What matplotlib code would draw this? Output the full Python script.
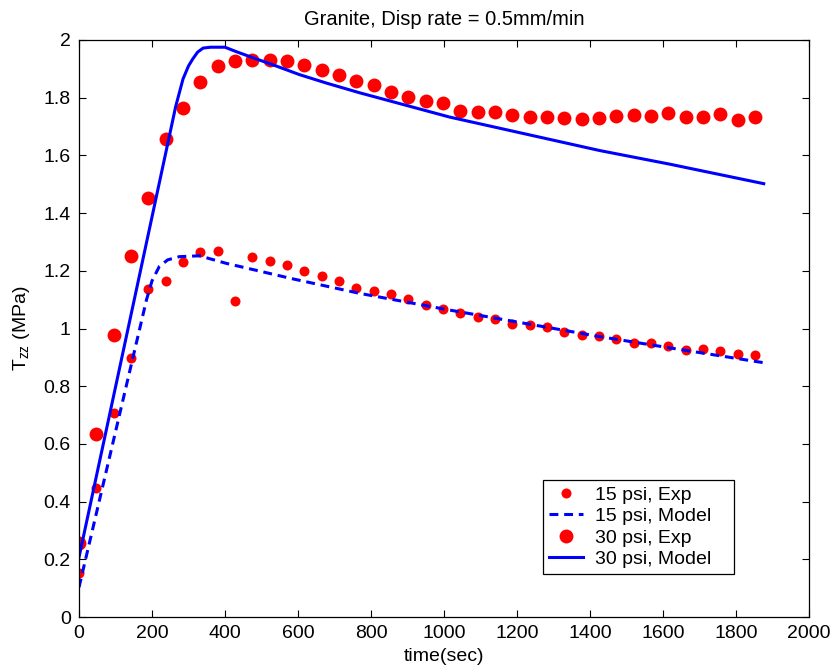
import matplotlib
matplotlib.use("Agg")
import matplotlib.pyplot as plt

plt.rcParams["font.family"] = ["Liberation Sans", "DejaVu Sans"]
plt.rcParams["mathtext.fontset"] = "custom"
plt.rcParams["mathtext.rm"] = "Liberation Sans"
plt.rcParams["mathtext.it"] = "Liberation Sans:italic"

# Sampling times of the experimental records (sec)
time_exp = [0, 47.5, 95, 142.5, 190, 237.5, 285, 332.5, 380, 427.5,
            475, 522.5, 570, 617.5, 665, 712.5, 760, 807.5, 855, 902.5,
            950, 997.5, 1045, 1092.5, 1140, 1187.5, 1235, 1282.5, 1330, 1377.5,
            1425, 1472.5, 1520, 1567.5, 1615, 1662.5, 1710, 1757.5, 1805, 1852.5]

# Measured stress, 15 psi confinement (MPa)
exp_15 = [0.151, 0.446, 0.707, 0.898, 1.136, 1.163, 1.232, 1.265, 1.270, 1.095,
          1.247, 1.234, 1.219, 1.199, 1.181, 1.163, 1.141, 1.131, 1.120, 1.102,
          1.082, 1.068, 1.055, 1.040, 1.033, 1.016, 1.011, 1.004, 0.987, 0.979,
          0.974, 0.965, 0.951, 0.949, 0.939, 0.927, 0.928, 0.923, 0.911, 0.908]

# Measured stress, 30 psi confinement (MPa)
exp_30 = [0.258, 0.635, 0.979, 1.253, 1.454, 1.656, 1.766, 1.855, 1.911, 1.926,
          1.929, 1.931, 1.928, 1.913, 1.897, 1.877, 1.859, 1.843, 1.820, 1.803,
          1.789, 1.780, 1.755, 1.751, 1.752, 1.741, 1.734, 1.734, 1.729, 1.727,
          1.731, 1.736, 1.739, 1.735, 1.746, 1.733, 1.733, 1.744, 1.724, 1.733]

# Model predictions
time_model_15 = [0, 185, 200, 220, 243, 275, 330, 403, 586, 768,
                 1015, 1426, 1618, 1878]
model_15 = [0.103, 1.100, 1.165, 1.215, 1.238, 1.249, 1.252, 1.226, 1.172, 1.122,
            1.064, 0.972, 0.933, 0.881]

time_model_30 = [0, 265, 285, 300, 312, 325, 340, 360, 400, 430, 480, 540,
                 604, 677, 769, 1015, 1426, 1617, 1876]
model_30 = [0.207, 1.770, 1.865, 1.910, 1.935, 1.958, 1.972, 1.975, 1.975, 1.960,
            1.937, 1.910, 1.880, 1.851, 1.817, 1.733, 1.617, 1.570, 1.502]

x_ticks = list(range(0, 2001, 200))
y_ticks = [0, 0.2, 0.4, 0.6, 0.8, 1, 1.2, 1.4, 1.6, 1.8, 2]
y_tick_labels = ["0", "0.2", "0.4", "0.6", "0.8", "1", "1.2", "1.4", "1.6", "1.8", "2"]

fig = plt.figure(figsize=(8.36, 6.68), dpi=100)
ax = fig.add_axes([79 / 836, 1 - 617 / 668, 730 / 836, 577 / 668])

ax.plot(time_exp, exp_15, linestyle="none", marker="o", markersize=7.2,
        color="red", markeredgewidth=0, label="15 psi, Exp")
ax.plot(time_model_15, model_15, color="blue", linewidth=2.2,
        linestyle=(0, (2.9, 1.9)), label="15 psi, Model")
ax.plot(time_exp, exp_30, linestyle="none", marker="o", markersize=10,
        color="red", markeredgewidth=0, label="30 psi, Exp")
ax.plot(time_model_30, model_30, color="blue", linewidth=2.2,
        label="30 psi, Model")

ax.set_xlim(0, 2000)
ax.set_ylim(0, 2)
ax.set_xticks(x_ticks)
ax.set_yticks(y_ticks)
ax.set_yticklabels(y_tick_labels)
ax.tick_params(direction="in", top=True, right=True, length=5, width=0.8,
               labelsize=14, pad=6)
for s in ax.spines.values():
    s.set_linewidth(0.9)

ax.set_title("Granite, Disp rate = 0.5mm/min", fontsize=14.5, pad=11)
ax.set_xlabel("time(sec)", fontsize=14, labelpad=4)
ax.set_ylabel(r"T$_{\mathrm{zz}}$ (MPa)", fontsize=14, labelpad=8)

# Legend box spans a fixed width with the entries left-aligned inside it
leg = ax.legend(loc="lower left", bbox_to_anchor=(0.6356, 0.0745, 0.2616, 0.163),
                mode="expand", borderaxespad=0, fancybox=False, edgecolor="black",
                framealpha=1, fontsize=14, handlelength=1.75,
                labelspacing=0.2, borderpad=0.3, handletextpad=0.65)
leg.get_frame().set_linewidth(0.9)

fig.savefig("out.png", dpi=100)
